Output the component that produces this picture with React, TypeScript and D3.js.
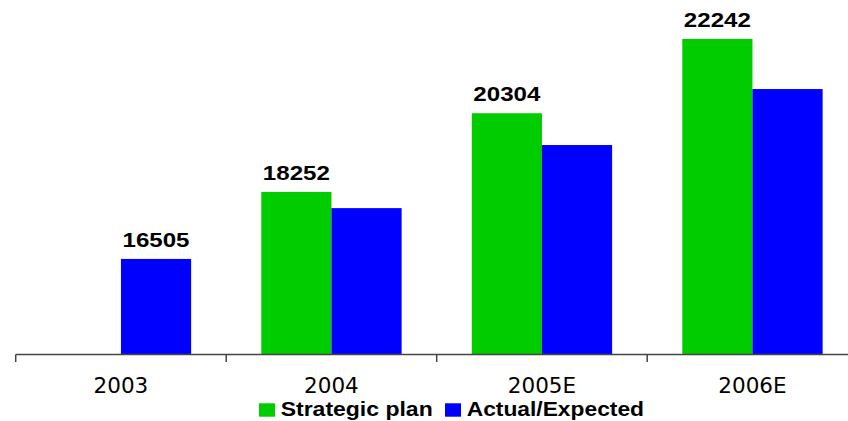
import React from "react";
import * as d3 from "d3";

const categories = ["2003", "2004", "2005E", "2006E"];
const seriesNames = ["Strategic plan", "Actual/Expected"];
const strategicPlan: (number | null)[] = [null, 18252, 20304, 22242];
const actualExpected: number[] = [16505, 17830, 19475, 20935];
const labelValues: number[] = [16505, 18252, 20304, 22242];
const colors = ["#00cc00", "#0000ff"];

const W = 848;
const H = 421;
const axisY = 354.5;

export default function App() {
  const x0 = d3.scaleBand<string>().domain(categories).range([15.7, 15.7 + 4 * 210.5]).paddingInner(0).paddingOuter(0);
  const bw = x0.bandwidth();
  const x1 = d3.scaleBand<string>().domain(seriesNames).range([0, bw]).paddingInner(0).paddingOuter(0.5);
  const y = d3.scaleLinear().domain([14000, 23000]).range([355, 355 - 9000 * 0.03835]);

  const seriesData = [strategicPlan, actualExpected];

  return (
    <svg width={W} height={H} style={{ position: "fixed", left: 0, top: 0, background: "#fff" }}>
      {categories.map((c, i) =>
        seriesData.map((s, si) => {
          const v = s[i];
          if (v == null) return null;
          const bx = (x0(c) as number) + (x1(seriesNames[si]) as number);
          return (
            <rect key={c + si} x={bx} y={y(v)} width={x1.bandwidth()} height={axisY - y(v)} fill={colors[si]} />
          );
        })
      )}
      {categories.map((c, i) => {
        const v = labelValues[i];
        const hasGreen = strategicPlan[i] != null;
        const si = hasGreen ? 0 : 1;
        const cx = (x0(c) as number) + (x1(seriesNames[si]) as number) + x1.bandwidth() / 2;
        return (
          <text key={"l" + c} x={cx} y={y(v) - 12.3} textAnchor="middle" fontFamily="'Liberation Sans', Arial, sans-serif" fontWeight="bold" fontSize={21} textLength={67} lengthAdjust="spacingAndGlyphs" fill="#000">
            {v}
          </text>
        );
      })}
      <line x1={15.7} x2={W} y1={axisY} y2={axisY} stroke="#444" strokeWidth={1.5} />
      {d3.range(categories.length + 1).map((i) => {
        const tx = 15.7 + i * bw;
        return <line key={"t" + i} x1={tx} x2={tx} y1={axisY} y2={362} stroke="#444" strokeWidth={1.5} />;
      })}
      {categories.map((c) => (
        <text key={"c" + c} x={(x0(c) as number) + bw / 2} y={393.3} textAnchor="middle" fontFamily="'DejaVu Sans', Verdana, sans-serif" fontSize={21.5} fill="#000">
          {c}
        </text>
      ))}
      <g>
        <rect x={259} y={403.3} width={16} height={13.4} fill={colors[0]} />
        <text x={280.7} y={416} fontFamily="'Liberation Sans', Arial, sans-serif" fontWeight="bold" fontSize={20} textLength={152} lengthAdjust="spacingAndGlyphs" fill="#000">
          {seriesNames[0]}
        </text>
        <rect x={445} y={403.3} width={16} height={13.4} fill={colors[1]} />
        <text x={466.7} y={416} fontFamily="'Liberation Sans', Arial, sans-serif" fontWeight="bold" fontSize={20} textLength={177.3} lengthAdjust="spacingAndGlyphs" fill="#000">
          {seriesNames[1]}
        </text>
      </g>
    </svg>
  );
}
